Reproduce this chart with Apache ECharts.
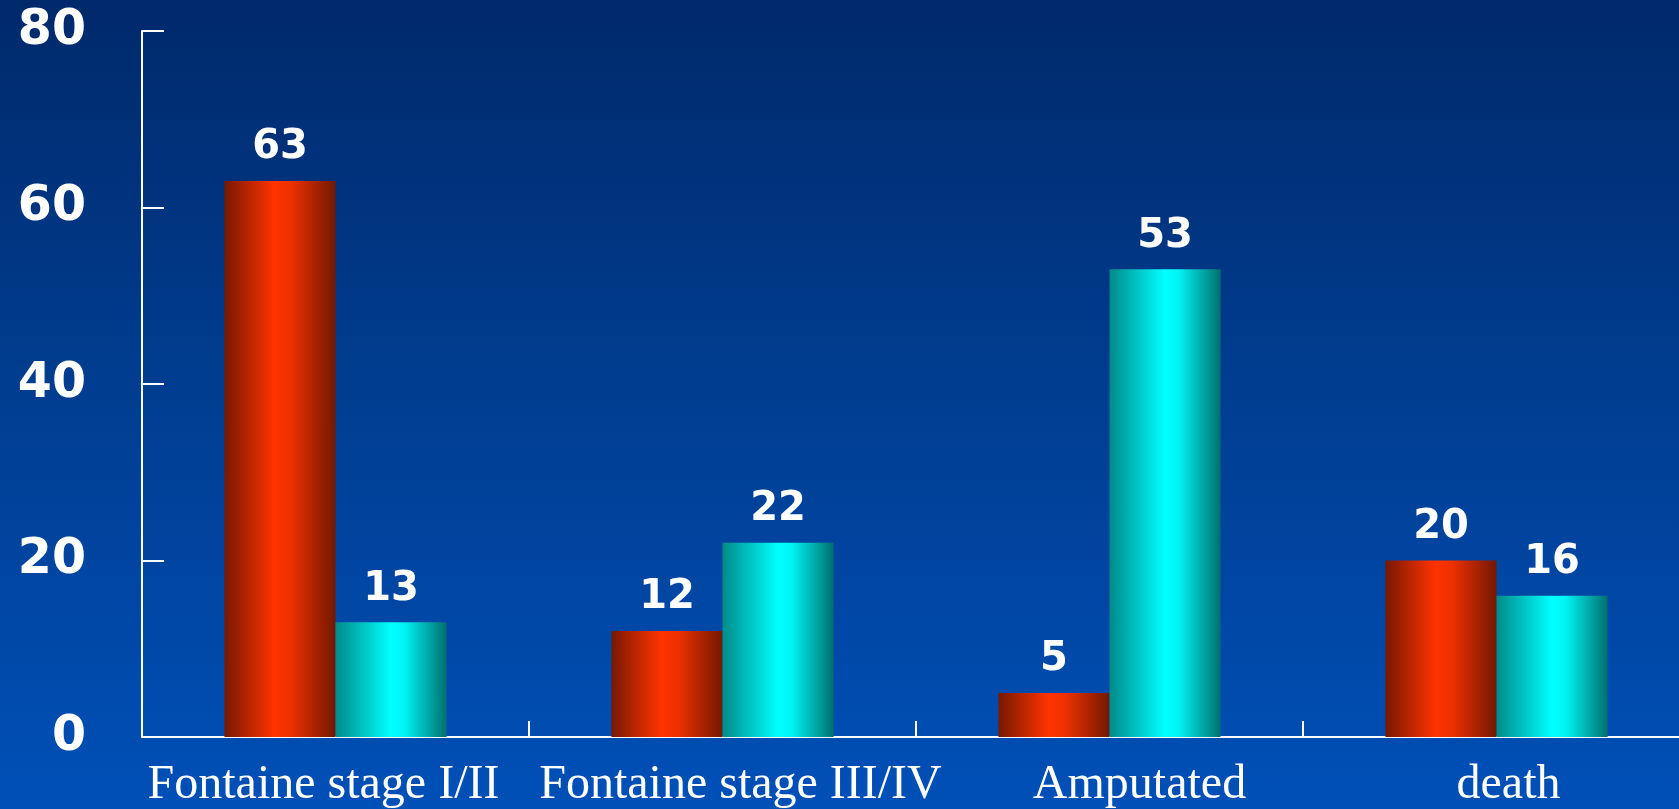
<!DOCTYPE html>
<html>
<head>
<meta charset="utf-8">
<script src="https://cdn.jsdelivr.net/npm/echarts@6/dist/echarts.min.js"></script>
<style>
  html, body { margin: 0; padding: 0; overflow: hidden; }
  body { background: linear-gradient(to bottom, #00296b 0%, #003c8e 45%, #0050b8 100%); }
  #main { width: 1679px; height: 809px; }
</style>
</head>
<body>
<div id="main"></div>
<script>
// 数据
const categories = ["Fontaine stage I/II", "Fontaine stage III/IV", "Amputated", "death"];
const redValues = [63, 12, 5, 20];
const cyanValues = [13, 22, 53, 16];
const yTicks = { min: 0, max: 80, interval: 20 };
// 标签水平偏移 (px)
const labelShift = [-12, 18, 30, 12];

var chartDom = document.getElementById("main");
var myChart = echarts.init(chartDom);

const redGradient = new echarts.graphic.LinearGradient(0, 0, 1, 0, [
  { offset: 0, color: "#771800" },
  { offset: 0.45, color: "#ff3300" },
  { offset: 0.6, color: "#ee3000" },
  { offset: 1, color: "#721800" }
]);
const cyanGradient = new echarts.graphic.LinearGradient(0, 0, 1, 0, [
  { offset: 0, color: "#008a8a" },
  { offset: 0.5, color: "#00ffff" },
  { offset: 0.62, color: "#00f4f4" },
  { offset: 1, color: "#006f6f" }
]);

const valueLabel = {
  show: true,
  position: "top",
  distance: 13,
  color: "#fff",
  fontFamily: "DejaVu Sans",
  fontWeight: "bold",
  fontSize: 40
};

const categoryData = categories.map((name, i) => {
  const s = labelShift[i];
  return {
    value: name,
    textStyle: { padding: s >= 0 ? [0, 0, 0, 2 * s] : [0, -2 * s, 0, 0] }
  };
});

var option = {
  backgroundColor: "transparent",
  animation: false,
  grid: { left: 142, top: 31, width: 1548, bottom: 72, containLabel: false, outerBoundsMode: "none" },
  xAxis: {
    type: "category",
    data: categoryData,
    axisLine: { show: true, lineStyle: { color: "#fff", width: 2 } },
    axisTick: { show: true, interval: 0, inside: true, length: 16, lineStyle: { color: "#fff", width: 2 } },
    axisLabel: {
      interval: 0,
      color: "#fff",
      fontFamily: "Liberation Serif",
      fontSize: 48,
      margin: 24
    }
  },
  yAxis: {
    type: "value",
    min: yTicks.min,
    max: yTicks.max,
    interval: yTicks.interval,
    axisLine: { show: true, lineStyle: { color: "#fff", width: 2 } },
    axisTick: { show: true, inside: true, length: 22, lineStyle: { color: "#fff", width: 2 } },
    splitLine: { show: false },
    axisLabel: {
      color: "#fff",
      fontFamily: "DejaVu Sans",
      fontWeight: "bold",
      fontSize: 49,
      margin: 56
    }
  },
  series: [
    {
      type: "bar",
      data: redValues,
      barGap: "0%",
      barCategoryGap: "42.6%",
      itemStyle: { color: redGradient },
      label: valueLabel
    },
    {
      type: "bar",
      data: cyanValues,
      barGap: "0%",
      barCategoryGap: "42.6%",
      itemStyle: { color: cyanGradient },
      label: valueLabel
    }
  ]
};
option && myChart.setOption(option);
</script>
</body>
</html>
